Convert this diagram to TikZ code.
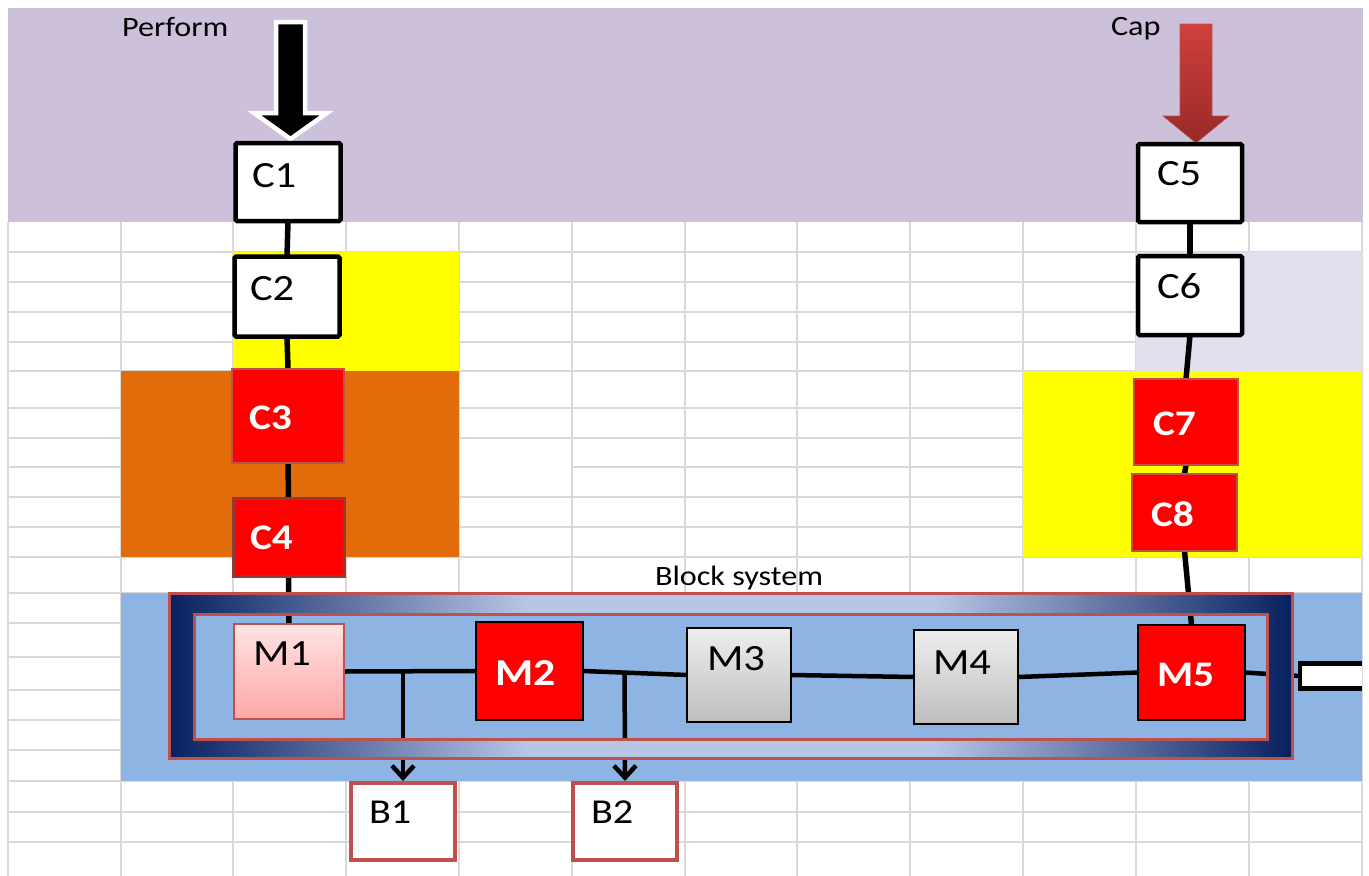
\documentclass[tikz,border=0pt]{standalone}
\usepackage{fontspec}
\setmainfont{Carlito}[FakeStretch=1.15]
\usetikzlibrary{arrows.meta,calc}

\definecolor{lav}{HTML}{CCC0DA}
\definecolor{lilac}{HTML}{E4DFEC}
\definecolor{yel}{HTML}{FFFF00}
\definecolor{orng}{HTML}{E26B0A}
\definecolor{bandblue}{HTML}{8DB4E2}
\definecolor{gridc}{HTML}{D9D9D9}
\definecolor{framered}{HTML}{C0504D}
\definecolor{ringdark}{HTML}{08205F}
\definecolor{ringlight}{HTML}{B8C6E6}
\definecolor{pinktop}{HTML}{FFE4E4}
\definecolor{pinkbot}{HTML}{FFA6A6}
\definecolor{greytop}{HTML}{EEEEEE}
\definecolor{greybot}{HTML}{BEBEBE}
\definecolor{captop}{HTML}{D0403D}
\definecolor{capbot}{HTML}{982A28}
\definecolor{cfouredge}{HTML}{953735}

\pgfdeclarehorizontalshading{ringshade}{100bp}{color(0bp)=(ringdark); color(25bp)=(ringdark); color(41bp)=(ringlight); color(59bp)=(ringlight); color(75bp)=(ringdark); color(100bp)=(ringdark)}

\pgfdeclarelayer{bg}
\pgfdeclarelayer{lines}
\pgfdeclarelayer{frame}
\pgfsetlayers{bg,lines,frame,main}

\begin{document}
\begin{tikzpicture}[x=1pt,y=-1pt,
  gridline/.style={draw=gridc, line width=1.5pt},
  conn/.style={draw=black, line width=5.5pt},
  mconn/.style={draw=black, line width=4.5pt},
  barb/.style={-{Straight Barb[length=12pt,width=22pt]}, shorten >=2pt},
  box/.style={inner sep=0pt, outer sep=0pt},
  wbox/.style={box, draw=black, line width=4.5pt, fill=white, rounded corners=1.5pt},
  rbox/.style={box, fill=red, draw=framered, line width=1.2pt},
  mred/.style={box, fill=red, draw=black, line width=2pt},
  mgrey/.style={box, top color=greytop, bottom color=greybot, draw=black, line width=1.6pt},
  mpink/.style={box, top color=pinktop, bottom color=pinkbot, draw=framered, line width=1.5pt},
  bbox/.style={box, draw=framered, line width=4.5pt, fill=white},
  lbl/.style={anchor=base west, inner sep=0pt, outer sep=0pt},
  big/.style={font=\fontsize{37}{40}\selectfont},
  bigb/.style={font=\bfseries\fontsize{36}{40}\selectfont, text=white},
  small/.style={font=\fontsize{28}{30}\selectfont}
]
\useasboundingbox (0,0) rectangle (1369,876);

% ---------- sheet grid and coloured cell ranges ----------
\begin{pgfonlayer}{bg}
  \foreach \x in {8,121,233,346,459,572,685,797,910,1023,1136,1249,1362}
    \draw[gridline] (\x,222) -- (\x,876);
  \foreach \y in {252,282,312,342,371,408,438,497,527,557,593,623,657,690,720,750,781,812,842}
    \draw[gridline] (8,\y) -- (1362,\y);
  \draw[gridline] (8,467) -- (459,467);
  \draw[gridline] (572,467) -- (1362,467);

  \fill[lav] (8,8) rectangle (1363,222);
  \fill[yel] (233,252) rectangle (459,371);
  \fill[orng] (121,371) rectangle (459,557);
  \fill[lilac] (1136,252) rectangle (1362,371);
  \fill[yel] (1023,371) rectangle (1362,557);
  \fill[bandblue] (121,593) rectangle (1362,781);
\end{pgfonlayer}

% ---------- block system frame (ring drawn over the wiring) ----------
\begin{pgfonlayer}{frame}
  \shade[shading=ringshade, even odd rule]
    (169,593) rectangle (1292,758) (194,614) rectangle (1267,739);
  \draw[framered, line width=3pt] (169,593) rectangle (1292,758);
  \draw[framered, line width=3pt] (194,614) rectangle (1267,739);
\end{pgfonlayer}
\node[lbl, small] (blk) at (655,585) {Block system};

% ---------- input arrows ----------
\filldraw[fill=black, draw=white, line width=4.5pt]
  (276,22) -- (305,22) -- (305,113) -- (327,113) -- (290.5,139)
  -- (254,113) -- (276,113) -- cycle;
\shadedraw[top color=captop, bottom color=capbot, draw=framered, line width=0.6pt]
  (1180,24) -- (1212,24) -- (1212,116) -- (1229,116) -- (1196,143)
  -- (1163,116) -- (1180,116) -- cycle;
\node[lbl, small] (perf) at (122,36) {Perform};
\node[lbl, small] (cap) at (1111,35) {Cap};

% ---------- left chain ----------
\node[wbox, minimum width=105pt, minimum height=78pt] (C1) at (288,182) {};
\node[wbox, minimum width=105pt, minimum height=80pt] (C2) at (287,296.5) {};
\node[rbox, minimum width=112pt, minimum height=94pt] (C3) at (288,416) {};
\node[box, fill=red, draw=cfouredge, line width=3pt, minimum width=111pt, minimum height=78pt] (C4) at (288.5,537) {};
\node[lbl, big] (C1t) at (252,187) {C1};
\node[lbl, big] (C2t) at (250,300) {C2};
\node[lbl, bigb] (C3t) at (249,429) {C3};
\node[lbl, bigb] (C4t) at (250,549) {C4};

% ---------- right chain ----------
\node[wbox, minimum width=104pt, minimum height=78pt] (C5) at (1190,183) {};
\node[wbox, minimum width=104pt, minimum height=79pt] (C6) at (1190,295.5) {};
\node[rbox, minimum width=104pt, minimum height=86pt] (C7) at (1186,422) {};
\node[rbox, minimum width=105pt, minimum height=77pt] (C8) at (1184.5,512.5) {};
\node[lbl, big] (C5t) at (1157,185) {C5};
\node[lbl, big] (C6t) at (1157,298) {C6};
\node[lbl, bigb] (C7t) at (1153,435) {C7};
\node[lbl, bigb] (C8t) at (1151,526) {C8};

% ---------- modules ----------
\node[mpink, minimum width=110pt, minimum height=95pt] (M1) at (289,671.5) {};
\node[mred, minimum width=107pt, minimum height=98pt] (M2) at (529.5,671) {};
\node[mgrey, minimum width=104pt, minimum height=94pt] (M3) at (739,675) {};
\node[mgrey, minimum width=104pt, minimum height=94pt] (M4) at (966,677) {};
\node[mred, minimum width=107pt, minimum height=95pt] (M5) at (1191.5,672.5) {};
\node[box, fill=white, minimum width=62pt, minimum height=25pt] (W) at (1331,676) {};
\draw[black, line width=4.5pt] (W.north east) -- (W.north west) -- (W.south west) -- (W.south east);
\node[lbl, big] (M1t) at (253,665) {M1};
\node[lbl, bigb, font=\bfseries\fontsize{38}{40}\selectfont] (M2t) at (495,685) {M2};
\node[lbl, big] (M3t) at (707,670) {M3};
\node[lbl, big] (M4t) at (933,674) {M4};
\node[lbl, bigb] (M5t) at (1157,686) {M5};

% ---------- outputs ----------
\node[bbox, minimum width=104pt, minimum height=77pt] (B1) at (403,821.5) {};
\node[bbox, minimum width=104pt, minimum height=77pt] (B2) at (625,821.5) {};
\node[lbl, font=\fontsize{35}{38}\selectfont] (B1t) at (369,823) {B1};
\node[lbl, font=\fontsize{35}{38}\selectfont] (B2t) at (591,823) {B2};

% ---------- wiring ----------
\begin{pgfonlayer}{lines}
  \draw[conn] (C1.south) -- (C2.north);
  \draw[conn] (C2.south) -- (C3.north);
  \draw[conn] (C3.south) -- (C4.north);
  \draw[conn] (C4.south) -- (M1.north);
  \draw[conn] (C5.south) -- (C6.north);
  \draw[conn] (C6.south) -- (C7.north);
  \draw[conn] (C7.south) -- (C8.north);
  \draw[conn] (C8.south) -- (M5.north);
  \draw[mconn] (M1.east) -- (M2.west);
  \draw[mconn] (M2.east) -- (M3.west);
  \draw[mconn] (M3.east) -- (M4.west);
  \draw[mconn] (M4.east) -- (M5.west);
  \draw[mconn] (M5.east) -- (W.west);
  \draw[mconn, barb] (B1.north |- M1.east) -- (B1.north);
  \draw[mconn, barb] ($(M2.east)!0.4!(M3.west)$) -- (B2.north);
\end{pgfonlayer}
\end{tikzpicture}
\end{document}
